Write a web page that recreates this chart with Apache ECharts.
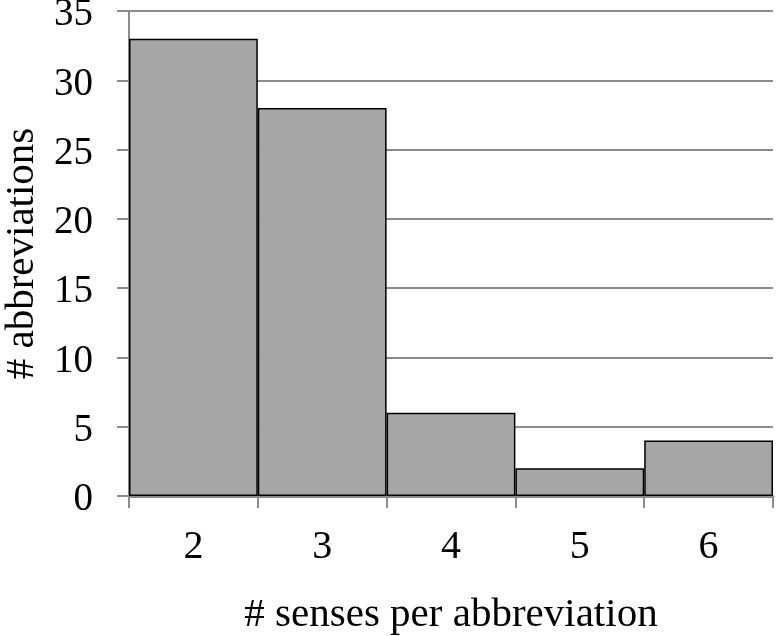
<!DOCTYPE html>
<html><head><meta charset="utf-8">
<script src="https://cdn.jsdelivr.net/npm/echarts@6/dist/echarts.min.js"></script>
<style>html,body{margin:0;padding:0;background:#fff}#c{width:776px;height:636px}</style>
</head><body><div id="c"></div>
<script>
const categories = ['2', '3', '4', '5', '6'];
const counts = [33, 28, 6, 2, 4];
const xTitle = '# senses per abbreviation';
const yTitle = '# abbreviations';

const chart = echarts.init(document.getElementById('c'));
const font = 'Liberation Serif';
chart.setOption({
  animation: false,
  grid: {left: 129, right: 3, top: 11, bottom: 140, containLabel: false, outerBoundsMode: 'none'},
  xAxis: {
    type: 'category', data: categories,
    name: xTitle, nameLocation: 'middle', nameGap: 99,
    nameTextStyle: {fontFamily: font, fontSize: 41, color: '#000'},
    axisLine: {lineStyle: {color: '#8c8c8c', width: 3}},
    axisTick: {show: true, length: 12, lineStyle: {color: '#8c8c8c', width: 2}},
    axisLabel: {fontFamily: font, fontSize: 40, color: '#000', margin: 31}
  },
  yAxis: {
    type: 'value', min: 0, max: 35, interval: 5,
    name: yTitle, nameLocation: 'middle', nameGap: 86,
    nameTextStyle: {fontFamily: font, fontSize: 41, color: '#000'},
    axisLine: {show: true, lineStyle: {color: '#8c8c8c', width: 2}},
    axisTick: {show: true, length: 12, lineStyle: {color: '#8c8c8c', width: 2}},
    axisLabel: {fontFamily: font, fontSize: 39, color: '#000', margin: 36, verticalAlign: 'top', lineHeight: 8},
    splitLine: {lineStyle: {color: '#8c8c8c', width: 2}}
  },
  series: [{
    type: 'bar', data: counts, barCategoryGap: 0,
    itemStyle: {color: '#a6a6a6', borderColor: '#000', borderWidth: 1.5}
  }]
});
</script></body></html>
